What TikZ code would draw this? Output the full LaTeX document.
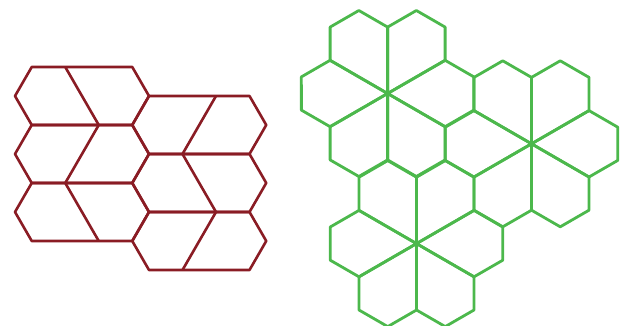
\documentclass[tikz,border=0pt]{standalone}
\usepackage{tikz}
\definecolor{tilered}{HTML}{8A1C24}
\definecolor{tilegreen}{HTML}{4CB84C}
\begin{document}
\begin{tikzpicture}[
  x=1pt, y=1pt,
  redtile/.style={draw=tilered, line width=2.6pt, line join=round},
  greentile/.style={draw=tilegreen, line width=2.8pt, line join=round}
]
\useasboundingbox (0,-326) rectangle (620,0);
\foreach \cx/\cy/\d in {82/-96/1, 82/-154/-1, 82/-212/1, 199.25/-125/-1, 199.25/-183/1, 199.25/-241/-1}{
  \begin{scope}[shift={(\cx,\cy)}, scale=33.5]
    \draw[redtile] (-2,0) -- (-1.5,0.866) -- (1.5,0.866) -- (2,0) -- (1.5,-0.866) -- (-1.5,-0.866) -- cycle;
    \draw[redtile] (-0.5*\d,0.866) -- (0.5*\d,-0.866);
  \end{scope}
}
\foreach \cx/\cy in {387.6/-93.5, 531.5/-143.8, 416.5/-243.6}{
  \foreach \a in {30,90,...,330}{
    \draw[greentile, shift={(\cx,\cy)}, scale=33.2, rotate=\a]
      (0,0) -- (2,0) -- (2.5,0.866) -- (2,1.732) -- (1,1.732) -- cycle;
  }
}
\end{tikzpicture}
\end{document}
